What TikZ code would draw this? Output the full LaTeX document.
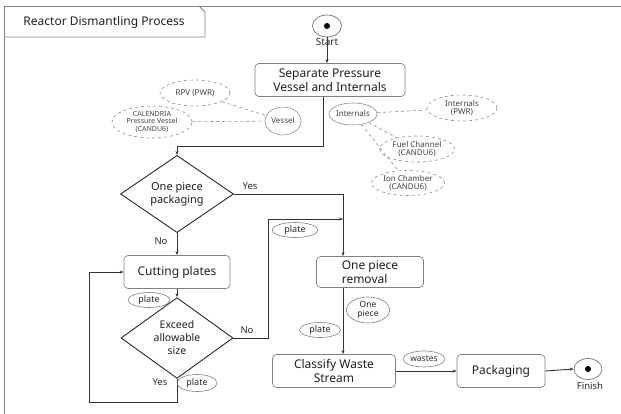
\documentclass[tikz,border=0pt]{standalone}
\usepackage{fontspec}
\setmainfont{Noto Sans}
\usetikzlibrary{shapes.geometric,arrows.meta}
\begin{document}
\begin{tikzpicture}[x=1pt,y=-1pt,
  line/.style={draw=black!80, line width=0.9pt},
  arr/.style={line, -{Stealth[length=4pt,width=3pt]}},
  box/.style={draw=black!50, rounded corners=4pt, line width=0.7pt, inner sep=0pt, align=center,
    font=\fontsize{12}{14.5}\selectfont, text=black!88},
  dec/.style={diamond, draw=black!85, line width=0.9pt, inner sep=0pt, align=center,
    font=\fontsize{11}{13}\selectfont, text=black!88},
  oval/.style={ellipse, draw=black!45, line width=0.6pt, inner sep=0pt, align=center,
    font=\fontsize{8}{8.5}\selectfont, text=black!75},
  doval/.style={oval, dashed},
  tag/.style={ellipse, draw=black!50, line width=0.6pt, inner sep=0pt, align=center,
    font=\fontsize{9}{9}\selectfont, text=black!85},
  link/.style={draw=black!45, dashed, line width=0.6pt},
  lbl/.style={font=\fontsize{9.5}{10}\selectfont, text=black!85},
  term/.style={ellipse, draw=black!55, line width=0.7pt, minimum width=29pt, minimum height=22pt, inner sep=0pt}
]
\useasboundingbox (0,0) rectangle (621,414);
% frame
\draw[black!50, line width=0.8pt] (4,414) -- (4,6) -- (621,6);
\draw[black!50, line width=0.8pt] (4,37) -- (205,37) -- (205,12) -- (199,6);
\node[font=\fontsize{12}{14}\selectfont, text=black!88] (title) at (104,22) {Reactor Dismantling Process};

% start
\node[term] (start) at (327,26) {};
\fill[black] (start.center) circle (3pt);
\node[lbl, font=\fontsize{10}{10}\selectfont] (startl) at (327,42) {Start};

\node[box, minimum width=150pt, minimum height=33pt] (sep) at (330,80) {Separate Pressure\\Vessel and Internals};

% side ellipses
\node[oval, minimum width=36pt, minimum height=28pt] (vessel) at (283,121) {Vessel};
\node[doval, minimum width=70pt, minimum height=26pt] (rpv) at (195,93) {RPV (PWR)};
\node[doval, minimum width=80pt, minimum height=32pt, font=\fontsize{7}{7.5}\selectfont] (cal) at (152,122) {CALENDRIA\\Pressure Vessel\\(CANDU6)};
\node[oval, minimum width=48pt, minimum height=22pt] (int) at (353,114) {Internals};
\node[doval, minimum width=70pt, minimum height=26pt] (intpwr) at (462,108) {Internals\\(PWR)};
\node[doval, minimum width=75pt, minimum height=26pt] (fuel) at (417,149) {Fuel Channel\\(CANDU6)};
\node[doval, minimum width=73pt, minimum height=25pt] (ion) at (408,183) {Ion Chamber\\(CANDU6)};
\draw[link] (rpv) -- (vessel);
\draw[link] (cal) -- (vessel);
\draw[link] (int) -- (intpwr);
\draw[link] (int) -- (fuel);
\draw[link] (int) -- (ion);

% main flow
\node[dec, minimum width=113pt, minimum height=68pt] (d1) at (177,194) {One piece\\packaging};
\node[box, minimum width=106pt, minimum height=33pt] (cut) at (177,272) {Cutting plates};
\node[dec, minimum width=112pt, minimum height=63pt, font=\fontsize{10.5}{13}\selectfont] (d2) at (177,338) {Exceed\\allowable\\size};
\node[box, minimum width=107pt, minimum height=31pt, align=left] (rem) at (370,272) {One piece\\removal\hspace{6pt}};
\node[box, minimum width=123pt, minimum height=33pt] (cls) at (334,371) {Classify Waste\\Stream};
\node[box, minimum width=88pt, minimum height=33pt] (pack) at (501,371) {Packaging};
\node[term, minimum width=28pt, minimum height=21pt] (fin) at (588,369) {};
\fill[black] (fin.center) circle (3pt);
\node[lbl, font=\fontsize{9.5}{10}\selectfont] (finl) at (590,386) {Finish};

\coordinate (c1) at (323,146);
\coordinate (xr) at (343,0);
\coordinate (j1) at (268,219);
\coordinate (j2) at (177,402);
\coordinate (j3) at (89,402);

\draw[arr] (start.south) -- (start.south |- sep.north);
\draw[arr] (sep.south -| c1) -- (c1) -| (d1.north);
\draw[arr] (d1.east) -| (xr |- rem.north);
\draw[arr] (d1.south) -- (cut.north);
\draw[arr] (cut.south) -- (d2.north);
\draw[arr] (d2.east) -| (j1) -- (xr |- j1);
\draw[arr] (d2.south) -- (j2) -- (j3) |- (cut.west);
\draw[arr] (rem.south -| xr) -- (xr |- cls.north);
\draw[arr] (cls.east) -- (pack.west);
\draw[arr] (pack.east) -- (fin.west);

% labels
\node[lbl] (yes1) at (250,186) {Yes};
\node[lbl] (no1) at (161,241) {No};
\node[lbl] (no2) at (247,330) {No};
\node[lbl] (yes2) at (160,382) {Yes};
\node[tag, minimum width=42pt, minimum height=15pt] (p1) at (149,300) {plate};
\node[tag, minimum width=46pt, minimum height=15pt] (p2) at (295,230) {plate};
\node[tag, minimum width=40pt, minimum height=17pt] (p3) at (197,383) {plate};
\node[tag, minimum width=41pt, minimum height=15pt] (p4) at (320,330) {plate};
\node[tag, minimum width=43pt, minimum height=26pt, font=\fontsize{8.5}{9}\selectfont] (op) at (368,310) {One\\piece};
\node[tag, minimum width=42pt, minimum height=16pt, font=\fontsize{8.5}{9}\selectfont] (wst) at (424,359) {wastes};
\end{tikzpicture}
\end{document}
